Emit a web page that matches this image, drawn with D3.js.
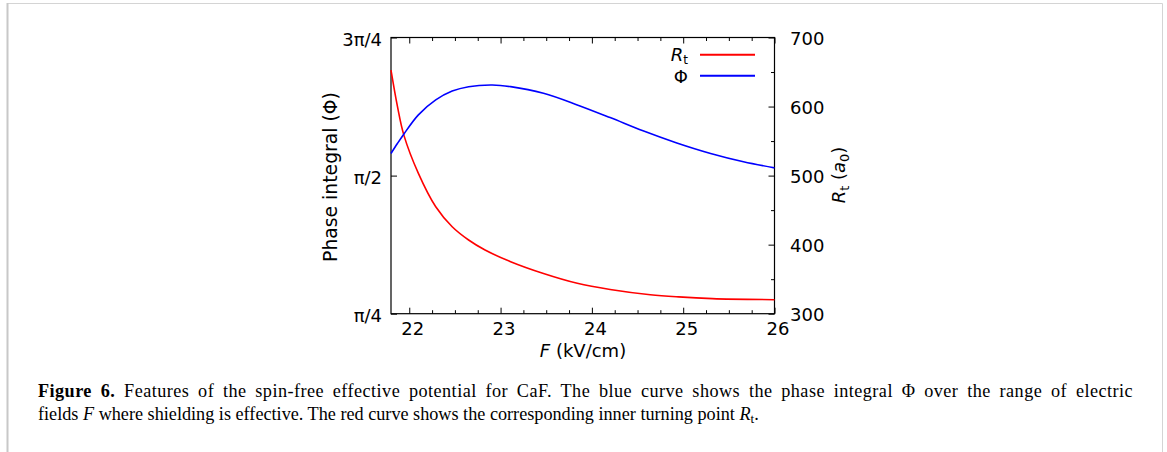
<!DOCTYPE html>
<html>
<head>
<meta charset="utf-8">
<script src="https://d3js.org/d3.v7.min.js"></script>
<style>
  body { margin: 0; background: #fff; }
  svg text { font-family: "DejaVu Sans", sans-serif; }
  .cap { font-family: "Liberation Serif", serif; }
</style>
</head>
<body>
<script>
// phase integral, in units of pi, against field (kV/cm)
var phiF = [21.80, 21.87, 21.94, 22.10, 22.29, 22.47, 22.65, 22.91, 23.11, 23.47, 23.84, 24.20, 24.56, 24.93, 25.30, 25.66, 26.00];
var phiOverPi = [0.540, 0.558, 0.575, 0.610, 0.637, 0.653, 0.661, 0.664, 0.661, 0.649, 0.628, 0.605, 0.581, 0.559, 0.540, 0.525, 0.514];
// inner turning point (a0) against field
var rF = [21.80, 21.87, 21.94, 22.10, 22.29, 22.47, 22.65, 22.83, 23.11, 23.47, 23.84, 24.20, 24.64, 24.95, 25.32, 26.00];
var rTurn = [652.7, 600.6, 559, 503.2, 454.8, 425.9, 406.7, 392.2, 375.3, 358.2, 344.0, 335.0, 327.4, 324.3, 321.9, 320.3];

var fTicks = [22, 23, 24, 25, 26];
var phiTicks = [0.25, 0.5, 0.75];
var phiTickLabels = ["π/4", "π/2", "3π/4"];
var rTicks = [300, 400, 500, 600, 700];

var width = 1167, height = 452;
var L = 391, R = 774.5, T = 37.5, B = 313.7;

var svg = d3.select("body").append("svg")
  .attr("width", width).attr("height", height);

// page frame
svg.append("path")
  .attr("d", "M7.5,452V3.5H1162.5V452")
  .attr("fill", "none").attr("stroke", "#d4d4d4").attr("stroke-width", 1);
svg.append("line").attr("x1", 7.5).attr("x2", 7.5).attr("y1", 3).attr("y2", 452)
  .attr("stroke", "#c8c8c8").attr("stroke-width", 2);

var x = d3.scaleLinear().domain([21.8, 26]).range([L, R]);
var yPhi = d3.scaleLinear().domain([0.25, 0.75]).range([B, T]);
var yR = d3.scaleLinear().domain([300, 700]).range([B, T]);

var minorF = d3.range(21.75, 26.01, 0.25).filter(function(v){ return v > 21.8 && fTicks.indexOf(v) < 0; });
var minorR = d3.range(350, 700, 100);

function styleAxis(g) {
  g.select(".domain").remove();
  g.selectAll(".tick line").attr("stroke", "#000");
  g.selectAll(".tick text").attr("fill", "#000").style("font-size", "18px");
}

// bottom axis
svg.append("g").attr("transform", "translate(0," + B + ")")
  .call(d3.axisBottom(x).tickValues(fTicks).tickSize(-6).tickPadding(9).tickFormat(d3.format("d")))
  .call(styleAxis)
  .call(function(g){ g.selectAll(".tick text").attr("dx", 3); });
svg.append("g").attr("transform", "translate(0," + B + ")")
  .call(d3.axisBottom(x).tickValues(minorF).tickSize(-3.5).tickFormat(""))
  .call(styleAxis);
// top ticks
svg.append("g").attr("transform", "translate(0," + T + ")")
  .call(d3.axisTop(x).tickValues(fTicks).tickSize(-6).tickFormat(""))
  .call(styleAxis);
svg.append("g").attr("transform", "translate(0," + T + ")")
  .call(d3.axisTop(x).tickValues(minorF).tickSize(-3.5).tickFormat(""))
  .call(styleAxis);

// left axis
svg.append("g").attr("transform", "translate(" + L + ",0)")
  .call(d3.axisLeft(yPhi).tickValues(phiTicks).tickSize(-6).tickPadding(9)
    .tickFormat(function(d, i){ return phiTickLabels[i]; }))
  .call(styleAxis)
  .call(function(g){ g.selectAll(".tick text").attr("dy", "0.45em"); });

// right axis
svg.append("g").attr("transform", "translate(" + R + ",0)")
  .call(d3.axisRight(yR).tickValues(rTicks).tickSize(-6).tickPadding(15.5).tickFormat(d3.format("d")))
  .call(styleAxis)
  .call(function(g){ g.selectAll(".tick text").attr("dy", "0.4em"); });
svg.append("g").attr("transform", "translate(" + R + ",0)")
  .call(d3.axisRight(yR).tickValues(minorR).tickSize(-3.5).tickFormat(""))
  .call(styleAxis);

// plot frame
svg.append("rect").attr("x", L).attr("y", T).attr("width", R - L).attr("height", B - T)
  .attr("fill", "none").attr("stroke", "#000").attr("stroke-width", 1.2);

// curves
var linePhi = d3.line().curve(d3.curveCatmullRom.alpha(0.5))
  .x(function(d, i){ return x(phiF[i]); }).y(function(d){ return yPhi(d); });
var lineR = d3.line().curve(d3.curveCatmullRom.alpha(0.5))
  .x(function(d, i){ return x(rF[i]); }).y(function(d){ return yR(d); });

svg.append("path").datum(rTurn).attr("d", lineR)
  .attr("fill", "none").attr("stroke", "#ff0000").attr("stroke-width", 1.6);
svg.append("path").datum(phiOverPi).attr("d", linePhi)
  .attr("fill", "none").attr("stroke", "#0000ff").attr("stroke-width", 1.6);

// legend
var leg = svg.append("g");
var t1 = leg.append("text").attr("x", 688).attr("y", 61).attr("text-anchor", "end").style("font-size", "18px");
t1.append("tspan").style("font-style", "italic").text("R");
t1.append("tspan").attr("dy", 3).style("font-size", "12px").text("t");
leg.append("line").attr("x1", 700).attr("x2", 755).attr("y1", 54.7).attr("y2", 54.7)
  .attr("stroke", "#ff0000").attr("stroke-width", 2);
leg.append("text").attr("x", 688).attr("y", 82.5).attr("text-anchor", "end").style("font-size", "18px").text("Φ");
leg.append("line").attr("x1", 700).attr("x2", 755).attr("y1", 75.7).attr("y2", 75.7)
  .attr("stroke", "#0000ff").attr("stroke-width", 2);

// axis titles
var xt = svg.append("text").attr("x", 583).attr("y", 357).attr("text-anchor", "middle").style("font-size", "18px");
xt.append("tspan").style("font-style", "italic").text("F");
xt.append("tspan").text(" (kV/cm)");

svg.append("text").attr("transform", "translate(337,177) rotate(-90)")
  .attr("text-anchor", "middle").style("font-size", "18.8px").text("Phase integral (Φ)");

var rt = svg.append("text").attr("transform", "translate(845,175) rotate(-90)")
  .attr("text-anchor", "middle").style("font-size", "18px");
rt.append("tspan").style("font-style", "italic").text("R");
rt.append("tspan").attr("dy", 4).style("font-size", "13px").text("t");
rt.append("tspan").attr("dy", -4).text(" (");
rt.append("tspan").style("font-style", "italic").text("a");
rt.append("tspan").attr("dy", 4).style("font-size", "13px").text("0");
rt.append("tspan").attr("dy", -4).text(")");

// caption (first line justified to the column width)
var c1 = svg.append("text").attr("class", "cap").attr("x", 38).attr("y", 397)
  .style("font-size", "18.2px").style("letter-spacing", "0.45px");
c1.append("tspan").style("font-weight", "bold").text("Figure 6.");
c1.append("tspan").text(" Features of the spin-free effective potential for CaF. The blue curve shows the phase integral Φ over the range of electric");
var nSpaces = c1.text().split(" ").length - 1;
var natural = c1.node().getComputedTextLength();
c1.style("word-spacing", Math.max(0, (1095 - natural) / nSpaces) + "px");

var c2 = svg.append("text").attr("class", "cap").attr("x", 38).attr("y", 420).style("font-size", "18.2px");
c2.append("tspan").text("fields ");
c2.append("tspan").style("font-style", "italic").text("F");
c2.append("tspan").text(" where shielding is effective. The red curve shows the corresponding inner turning point ");
c2.append("tspan").style("font-style", "italic").text("R");
c2.append("tspan").attr("dy", 3).style("font-size", "13px").text("t");
c2.append("tspan").attr("dy", -3).text(".");
</script>
</body>
</html>
